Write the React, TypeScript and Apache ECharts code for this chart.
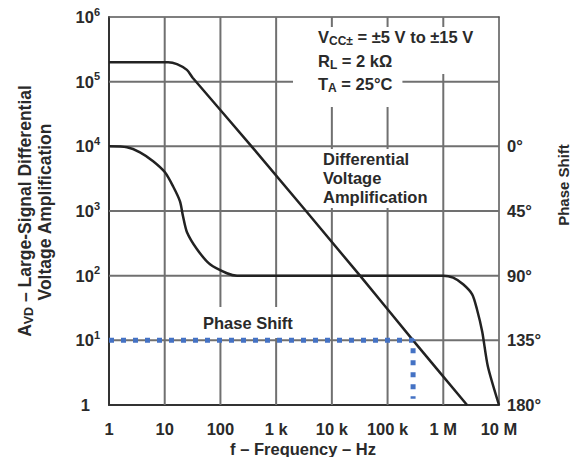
import React, { useEffect, useRef } from "react";
import * as echarts from "echarts";

// Frequency (Hz) vs large-signal differential voltage amplification
const gainFreq = [1, 11.5, 16.6, 25, 32, 385, 32000, 287000, 2670000];
const gainValue = [200000, 200000, 187000, 152000, 114000, 9400, 100, 10, 1];

// Frequency (Hz) vs phase shift (degrees)
const phaseFreq = [1, 2.1, 3.6, 6.2, 10.1, 14.1, 18.8, 21.3, 25.1, 38, 65, 131, 199, 1000000, 1500000, 2270000, 3300000, 4000000, 5000000, 6300000, 10000000];
const phaseValue = [0, 0.7, 4.2, 10.4, 18.1, 27.8, 38.3, 48.7, 59.8, 71.6, 82.1, 88.3, 90, 90, 91.4, 96, 103, 113, 129, 153, 180];

// Dotted marker at 10x gain
const markerFreq = [1, 287000, 287000];
const markerGain = [10, 10, 1.25];

// Inner grid lines (decades) and axis extents
const gridFreqs = [10, 100, 1000, 10000, 100000, 1000000];
const gridGains = [10, 100, 1000, 10000, 100000];
const freqRange = [1, 1e7];
const gainRange = [1, 1e6];

const xTickLabels = ["1", "10", "100", "1 k", "10 k", "100 k", "1 M", "10 M"];
const phaseTickLabels = ["0°", "45°", "90°", "135°", "180°"];

const FONT = "'Liberation Sans', Arial, sans-serif";
const TXT = "#2a2a2a";
const FS = 16.5;
const SUB = 12;

export default function App() {
  const ref = useRef<HTMLDivElement>(null);
  useEffect(() => {
    if (!ref.current) return;
    const chart = echarts.init(ref.current, undefined, { renderer: "svg" });
    const gainData = gainFreq.map((f, i) => [f, gainValue[i]]);
    const phaseData = phaseFreq.map((f, i) => [f, phaseValue[i]]);
    const markerData = markerFreq.map((f, i) => [f, markerGain[i]]);
    const base = { fontFamily: FONT, fontWeight: "bold" as const, fill: TXT };
    const subRich = {
      m: { fontSize: FS, fontWeight: "bold", fontFamily: FONT, fill: TXT, lineHeight: 20 },
      s: { fontSize: SUB, fontWeight: "bold", fontFamily: FONT, fill: TXT, lineHeight: 10, verticalAlign: "bottom" },
    };
    const gridStyle = { color: "#707070", width: 2 };
    const gridSeries = [
      ...gridFreqs.map((f) => ({
        type: "line", silent: true, symbol: "none", showSymbol: false, z: 3, xAxisIndex: 0, yAxisIndex: 0,
        data: [[f, gainRange[0]], [f, gainRange[1]]], lineStyle: gridStyle,
      })),
      ...gridGains.map((g) => ({
        type: "line", silent: true, symbol: "none", showSymbol: false, z: 3, xAxisIndex: 0, yAxisIndex: 0,
        data: [[freqRange[0], g], [freqRange[1], g]], lineStyle: gridStyle,
      })),
    ];
    chart.setOption({
      animation: false,
      backgroundColor: "#fff",
      grid: { left: 109, right: 74, top: 17, bottom: 52 },
      xAxis: [
        {
          type: "log", min: freqRange[0], max: freqRange[1], position: "bottom",
          axisLine: { show: true, onZero: false, lineStyle: { color: "#333", width: 2 } },
          axisTick: { show: false },
          splitLine: { show: false },
          axisLabel: {
            margin: 15, color: TXT, fontFamily: FONT, fontWeight: "bold", fontSize: FS,
            formatter: (v: number) => xTickLabels[Math.round(Math.log10(v))] ?? "",
          },
        },
        {
          type: "log", min: freqRange[0], max: freqRange[1], position: "top",
          axisLine: { show: true, onZero: false, lineStyle: { color: "#555", width: 1.5 } },
          axisTick: { show: false }, axisLabel: { show: false }, splitLine: { show: false },
        },
      ],
      yAxis: [
        {
          type: "log", min: gainRange[0], max: gainRange[1], position: "left",
          axisLine: { show: true, onZero: false, lineStyle: { color: "#333", width: 2 } },
          axisTick: { show: false },
          splitLine: { show: false },
          axisLabel: {
            margin: 9, color: TXT, fontFamily: FONT, fontWeight: "bold", fontSize: FS,
            formatter: (v: number) => {
              const e = Math.round(Math.log10(v));
              return e === 0 ? "{one|1}" : `{b|10}{s|${e}}`;
            },
            rich: {
              b: { fontSize: FS, fontWeight: "bold", fontFamily: FONT, color: TXT, lineHeight: 22, verticalAlign: "middle" },
              s: { fontSize: 11, fontWeight: "bold", fontFamily: FONT, color: TXT, lineHeight: 11, verticalAlign: "top" },
              one: { fontSize: FS, fontWeight: "bold", fontFamily: FONT, color: TXT, padding: [0, 10, 0, 0] },
            },
          },
        },
        {
          type: "value", inverse: true, min: -90, max: 180, interval: 45, position: "right",
          axisLine: { show: true, onZero: false, lineStyle: { color: "#555", width: 1.5 } },
          axisTick: { show: false },
          splitLine: { show: false },
          axisLabel: {
            margin: 8, color: TXT, fontFamily: FONT, fontWeight: "bold", fontSize: FS,
            formatter: (v: number) => (v < 0 ? "" : phaseTickLabels[Math.round(v / 45)] ?? ""),
          },
        },
      ],
      series: [
        ...gridSeries,
        {
          type: "line", name: "gain", data: gainData, xAxisIndex: 0, yAxisIndex: 0, showSymbol: false, symbol: "none",
          smooth: 0.25, lineStyle: { color: "#222", width: 2.5 }, z: 5,
        },
        {
          type: "line", name: "phase", data: phaseData, xAxisIndex: 0, yAxisIndex: 1, showSymbol: false, symbol: "none",
          smooth: 0.25, lineStyle: { color: "#222", width: 2.5 }, z: 5,
        },
        {
          type: "line", name: "marker", data: markerData, xAxisIndex: 0, yAxisIndex: 0, showSymbol: false, symbol: "none",
          lineStyle: { color: "#4472c4", width: 5, type: [5, 7], cap: "butt" }, z: 8,
        },
      ],
      graphic: [
        {
          type: "text", z: 7, x: 293, y: 38.5,
          style: {
            ...base, verticalAlign: "middle", backgroundColor: "#fff", padding: [0, 5, 3, 25],
            text: "{m|V}{s|CC±}{m| = ±5 V to ±15 V}", rich: subRich,
          },
        },
        {
          type: "text", z: 7, x: 293, y: 62,
          style: {
            ...base, verticalAlign: "middle", backgroundColor: "#fff", padding: [1, 60, 3, 25],
            text: "{m|R}{s|L}{m| = 2 kΩ}", rich: subRich,
          },
        },
        {
          type: "text", z: 7, x: 293, y: 90.5,
          style: {
            ...base, verticalAlign: "middle", backgroundColor: "#fff", padding: [0, 10, 13, 25],
            text: "{m|T}{s|A}{m| = 25°C}", rich: subRich,
          },
        },
        {
          type: "text", z: 7, x: 318, y: 149,
          style: {
            ...base, fontSize: FS, lineHeight: 19, verticalAlign: "top", backgroundColor: "#fff", padding: [0, 4, 2, 5],
            text: "Differential\nVoltage\nAmplification",
          },
        },
        {
          type: "text", z: 7, x: 195, y: 322.5,
          style: {
            ...base, fontSize: FS, lineHeight: 19, verticalAlign: "middle", backgroundColor: "#fff", padding: [9, 11, 3, 8],
            text: "Phase Shift",
          },
        },
        { type: "text", z: 7, x: 303, y: 449, style: { ...base, fontSize: FS, align: "center", verticalAlign: "middle", text: "f – Frequency – Hz" } },
        {
          type: "text", z: 7, x: 563, y: 185, rotation: Math.PI / 2,
          style: { ...base, fontSize: 15, align: "center", verticalAlign: "middle", text: "Phase Shift" },
        },
        {
          type: "text", z: 7, x: 25, y: 211, rotation: Math.PI / 2,
          style: {
            ...base, align: "center", verticalAlign: "middle",
            text: "{m|A}{s|VD}{m| – Large-Signal Differential}",
            rich: {
              m: { fontSize: 17.5, fontWeight: "bold", fontFamily: FONT, fill: TXT, lineHeight: 20 },
              s: { fontSize: 12.5, fontWeight: "bold", fontFamily: FONT, fill: TXT, lineHeight: 10, verticalAlign: "bottom" },
            },
          },
        },
        {
          type: "text", z: 7, x: 45, y: 212, rotation: Math.PI / 2,
          style: { ...base, fontSize: 17.5, align: "center", verticalAlign: "middle", text: "Voltage Amplification" },
        },
      ],
    });
    return () => chart.dispose();
  }, []);
  return <div ref={ref} style={{ position: "absolute", left: 0, top: 0, width: 573, height: 457 }} />;
}
